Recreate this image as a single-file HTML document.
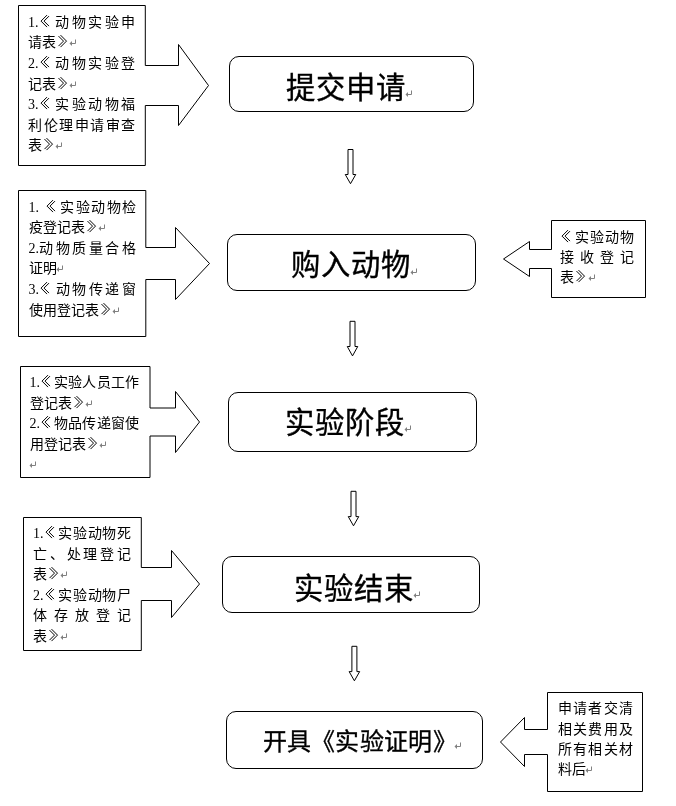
<!DOCTYPE html>
<html lang="zh-CN"><head><meta charset="utf-8"><title>flow</title>
<style>
html,body{margin:0;padding:0;background:#fff;}
body{width:676px;height:806px;position:relative;overflow:hidden;font-family:"Liberation Serif", serif;color:#000;}
svg.bg{position:absolute;left:0;top:0;}
#tx{position:absolute;left:0;top:0;width:676px;height:806px;will-change:transform;}
.ln{position:absolute;height:20.8px;line-height:20.8px;font-size:14px;white-space:nowrap;}
.ln.j{display:flex;justify-content:space-between;}
.sf{font-family:"Liberation Serif", serif;}
.ss{font-family:"Liberation Sans", sans-serif;}
.pm{margin-left:-0.6px;vertical-align:0px;}
.q{vertical-align:top;fill:none;stroke:#000;stroke-width:1;}
.ln.j>span{display:block;}
.sp{display:inline-block;width:6px;}
.mt{position:absolute;white-space:nowrap;font-family:"Liberation Serif", serif;-webkit-text-stroke:0.35px #000;}
.pm2{margin-left:-1.2px;vertical-align:-0.5px;}
</style></head><body>
<svg class="bg" width="676" height="806" viewBox="0 0 676 806" fill="#fff" stroke="#000" stroke-width="1" stroke-linejoin="miter">
<path d="M18.5 5.5 L145.3 5.5 L145.3 65.5 L178.5 65.5 L178.5 44.5 L208.5 85.5 L178.5 125.5 L178.5 105.5 L145.3 105.5 L145.3 165.5 L18.5 165.5 Z"/>
<path d="M18.5 190.5 L145.8 190.5 L145.8 247.5 L175.5 247.5 L175.5 227.5 L209.5 263.5 L175.5 299.5 L175.5 279.5 L145.8 279.5 L145.8 336.5 L18.5 336.5 Z"/>
<path d="M20.5 366.5 L150.0 366.5 L150.0 408.0 L175.5 408.0 L175.5 391.5 L199.5 422 L175.5 452.5 L175.5 436.0 L150.0 436.0 L150.0 477.5 L20.5 477.5 Z"/>
<path d="M23.5 517.5 L141.3 517.5 L141.3 567.5 L171.5 567.5 L171.5 550.5 L199.5 584 L171.5 617.5 L171.5 600.5 L141.3 600.5 L141.3 650.5 L23.5 650.5 Z"/>
<path d="M551.5 220.5 L645.5 220.5 L645.5 297.5 L551.5 297.5 L551.5 268.5 L529.5 268.5 L529.5 276.5 L503.5 259 L529.5 241.5 L529.5 249.5 L551.5 249.5 Z"/>
<path d="M547.5 692.5 L642.5 692.5 L642.5 791.5 L547.5 791.5 L547.5 754.5 L524.5 754.5 L524.5 766.5 L500.5 742 L524.5 717.5 L524.5 729.5 L547.5 729.5 Z"/>
<rect x="229.5" y="56.5" width="244.0" height="55.0" rx="9.5" ry="9.5"/>
<rect x="227.5" y="234.5" width="248.0" height="56.0" rx="9.5" ry="9.5"/>
<rect x="228.5" y="392.5" width="248.0" height="59.0" rx="9.5" ry="9.5"/>
<rect x="222.5" y="556.5" width="257.0" height="56.0" rx="9.5" ry="9.5"/>
<rect x="226.5" y="711.5" width="256.0" height="57.0" rx="9.5" ry="9.5"/>
<path d="M348.0 149.5 L353.0 149.5 L353.0 174.5 L355.75 174.5 L350.5 183.7 L345.25 174.5 L348.0 174.5 Z"/>
<path d="M350.0 321.3 L355.0 321.3 L355.0 346.5 L357.75 346.5 L352.5 355.9 L347.25 346.5 L350.0 346.5 Z"/>
<path d="M351.0 491.3 L356.0 491.3 L356.0 516.6 L358.75 516.6 L353.5 525.8 L348.25 516.6 L351.0 516.6 Z"/>
<path d="M351.9 646.3 L356.9 646.3 L356.9 671.6 L359.65 671.6 L354.4 680.8 L349.15 671.6 L351.9 671.6 Z"/>
</svg>
<div id="tx">
<div class="ln j sf" style="left:28px;top:12.70px;width:107.50px;"><span>1.<svg class="q" width="14" height="16" viewBox="0 0 14 16"><path d="M8 2.1 L2 8.1 L8 14.1 M10 3.1 L5 8.1 L10 13.1"/></svg></span><span>动</span><span>物</span><span>实</span><span>验</span><span>申</span></div>
<div class="ln sf" style="left:28px;top:33.33px;width:107.50px;">请表<svg class="q" width="14" height="16" viewBox="0 0 14 16"><path d="M4.5 2.1 L10.5 8.1 L4.5 14.1 M2.5 3.1 L7.5 8.1 L2.5 13.1"/></svg><svg class="pm" width="8" height="8" viewBox="0 0 8 8"><path d="M6.5 0.5 V4.5 H1.5" fill="none" stroke="#808080" stroke-width="1"/><path d="M0.5 4.5 L3 2 L3 7 Z" fill="#808080"/></svg></div>
<div class="ln j sf" style="left:28px;top:53.96px;width:107.50px;"><span>2.<svg class="q" width="14" height="16" viewBox="0 0 14 16"><path d="M8 2.1 L2 8.1 L8 14.1 M10 3.1 L5 8.1 L10 13.1"/></svg></span><span>动</span><span>物</span><span>实</span><span>验</span><span>登</span></div>
<div class="ln sf" style="left:28px;top:74.59px;width:107.50px;">记表<svg class="q" width="14" height="16" viewBox="0 0 14 16"><path d="M4.5 2.1 L10.5 8.1 L4.5 14.1 M2.5 3.1 L7.5 8.1 L2.5 13.1"/></svg><svg class="pm" width="8" height="8" viewBox="0 0 8 8"><path d="M6.5 0.5 V4.5 H1.5" fill="none" stroke="#808080" stroke-width="1"/><path d="M0.5 4.5 L3 2 L3 7 Z" fill="#808080"/></svg></div>
<div class="ln j sf" style="left:28px;top:95.22px;width:107.50px;"><span>3.<svg class="q" width="14" height="16" viewBox="0 0 14 16"><path d="M8 2.1 L2 8.1 L8 14.1 M10 3.1 L5 8.1 L10 13.1"/></svg></span><span>实</span><span>验</span><span>动</span><span>物</span><span>福</span></div>
<div class="ln j sf" style="left:28px;top:115.85px;width:107.50px;"><span>利</span><span>伦</span><span>理</span><span>申</span><span>请</span><span>审</span><span>查</span></div>
<div class="ln sf" style="left:28px;top:136.48px;width:107.50px;">表<svg class="q" width="14" height="16" viewBox="0 0 14 16"><path d="M4.5 2.1 L10.5 8.1 L4.5 14.1 M2.5 3.1 L7.5 8.1 L2.5 13.1"/></svg><svg class="pm" width="8" height="8" viewBox="0 0 8 8"><path d="M6.5 0.5 V4.5 H1.5" fill="none" stroke="#808080" stroke-width="1"/><path d="M0.5 4.5 L3 2 L3 7 Z" fill="#808080"/></svg></div>
<div class="ln j sf" style="left:28.5px;top:197.60px;width:107.50px;"><span>1.<i class="sp"></i><svg class="q" width="14" height="16" viewBox="0 0 14 16"><path d="M8 2.1 L2 8.1 L8 14.1 M10 3.1 L5 8.1 L10 13.1"/></svg></span><span>实</span><span>验</span><span>动</span><span>物</span><span>检</span></div>
<div class="ln sf" style="left:28.5px;top:218.20px;width:107.50px;">疫登记表<svg class="q" width="14" height="16" viewBox="0 0 14 16"><path d="M4.5 2.1 L10.5 8.1 L4.5 14.1 M2.5 3.1 L7.5 8.1 L2.5 13.1"/></svg><svg class="pm" width="8" height="8" viewBox="0 0 8 8"><path d="M6.5 0.5 V4.5 H1.5" fill="none" stroke="#808080" stroke-width="1"/><path d="M0.5 4.5 L3 2 L3 7 Z" fill="#808080"/></svg></div>
<div class="ln j sf" style="left:28.5px;top:238.80px;width:107.50px;"><span>2.动</span><span>物</span><span>质</span><span>量</span><span>合</span><span>格</span></div>
<div class="ln sf" style="left:28.5px;top:259.40px;width:107.50px;">证明<svg class="pm" width="8" height="8" viewBox="0 0 8 8"><path d="M6.5 0.5 V4.5 H1.5" fill="none" stroke="#808080" stroke-width="1"/><path d="M0.5 4.5 L3 2 L3 7 Z" fill="#808080"/></svg></div>
<div class="ln j sf" style="left:28.5px;top:280.00px;width:107.50px;"><span>3.<svg class="q" width="14" height="16" viewBox="0 0 14 16"><path d="M8 2.1 L2 8.1 L8 14.1 M10 3.1 L5 8.1 L10 13.1"/></svg></span><span>动</span><span>物</span><span>传</span><span>递</span><span>窗</span></div>
<div class="ln sf" style="left:28.5px;top:300.60px;width:107.50px;">使用登记表<svg class="q" width="14" height="16" viewBox="0 0 14 16"><path d="M4.5 2.1 L10.5 8.1 L4.5 14.1 M2.5 3.1 L7.5 8.1 L2.5 13.1"/></svg><svg class="pm" width="8" height="8" viewBox="0 0 8 8"><path d="M6.5 0.5 V4.5 H1.5" fill="none" stroke="#808080" stroke-width="1"/><path d="M0.5 4.5 L3 2 L3 7 Z" fill="#808080"/></svg></div>
<div class="ln j sf" style="left:29.5px;top:373.20px;width:109.50px;"><span>1.<svg class="q" width="14" height="16" viewBox="0 0 14 16"><path d="M8 2.1 L2 8.1 L8 14.1 M10 3.1 L5 8.1 L10 13.1"/></svg></span><span>实</span><span>验</span><span>人</span><span>员</span><span>工</span><span>作</span></div>
<div class="ln sf" style="left:29.5px;top:393.75px;width:109.50px;">登记表<svg class="q" width="14" height="16" viewBox="0 0 14 16"><path d="M4.5 2.1 L10.5 8.1 L4.5 14.1 M2.5 3.1 L7.5 8.1 L2.5 13.1"/></svg><svg class="pm" width="8" height="8" viewBox="0 0 8 8"><path d="M6.5 0.5 V4.5 H1.5" fill="none" stroke="#808080" stroke-width="1"/><path d="M0.5 4.5 L3 2 L3 7 Z" fill="#808080"/></svg></div>
<div class="ln j sf" style="left:29.5px;top:414.30px;width:109.50px;"><span>2.<svg class="q" width="14" height="16" viewBox="0 0 14 16"><path d="M8 2.1 L2 8.1 L8 14.1 M10 3.1 L5 8.1 L10 13.1"/></svg></span><span>物</span><span>品</span><span>传</span><span>递</span><span>窗</span><span>使</span></div>
<div class="ln sf" style="left:29.5px;top:434.85px;width:109.50px;">用登记表<svg class="q" width="14" height="16" viewBox="0 0 14 16"><path d="M4.5 2.1 L10.5 8.1 L4.5 14.1 M2.5 3.1 L7.5 8.1 L2.5 13.1"/></svg><svg class="pm" width="8" height="8" viewBox="0 0 8 8"><path d="M6.5 0.5 V4.5 H1.5" fill="none" stroke="#808080" stroke-width="1"/><path d="M0.5 4.5 L3 2 L3 7 Z" fill="#808080"/></svg></div>
<div class="ln sf" style="left:29.5px;top:455.40px;width:109.50px;"><svg class="pm" width="8" height="8" viewBox="0 0 8 8"><path d="M6.5 0.5 V4.5 H1.5" fill="none" stroke="#808080" stroke-width="1"/><path d="M0.5 4.5 L3 2 L3 7 Z" fill="#808080"/></svg></div>
<div class="ln j sf" style="left:33px;top:524.10px;width:98.00px;"><span>1.<svg class="q" width="14" height="16" viewBox="0 0 14 16"><path d="M8 2.1 L2 8.1 L8 14.1 M10 3.1 L5 8.1 L10 13.1"/></svg></span><span>实</span><span>验</span><span>动</span><span>物</span><span>死</span></div>
<div class="ln j sf" style="left:33px;top:544.66px;width:98.00px;"><span>亡</span><span>、</span><span>处</span><span>理</span><span>登</span><span>记</span></div>
<div class="ln sf" style="left:33px;top:565.22px;width:98.00px;">表<svg class="q" width="14" height="16" viewBox="0 0 14 16"><path d="M4.5 2.1 L10.5 8.1 L4.5 14.1 M2.5 3.1 L7.5 8.1 L2.5 13.1"/></svg><svg class="pm" width="8" height="8" viewBox="0 0 8 8"><path d="M6.5 0.5 V4.5 H1.5" fill="none" stroke="#808080" stroke-width="1"/><path d="M0.5 4.5 L3 2 L3 7 Z" fill="#808080"/></svg></div>
<div class="ln j sf" style="left:33px;top:585.78px;width:98.00px;"><span>2.<svg class="q" width="14" height="16" viewBox="0 0 14 16"><path d="M8 2.1 L2 8.1 L8 14.1 M10 3.1 L5 8.1 L10 13.1"/></svg></span><span>实</span><span>验</span><span>动</span><span>物</span><span>尸</span></div>
<div class="ln j sf" style="left:33px;top:606.34px;width:98.00px;"><span>体</span><span>存</span><span>放</span><span>登</span><span>记</span></div>
<div class="ln sf" style="left:33px;top:626.90px;width:98.00px;">表<svg class="q" width="14" height="16" viewBox="0 0 14 16"><path d="M4.5 2.1 L10.5 8.1 L4.5 14.1 M2.5 3.1 L7.5 8.1 L2.5 13.1"/></svg><svg class="pm" width="8" height="8" viewBox="0 0 8 8"><path d="M6.5 0.5 V4.5 H1.5" fill="none" stroke="#808080" stroke-width="1"/><path d="M0.5 4.5 L3 2 L3 7 Z" fill="#808080"/></svg></div>
<div class="ln j sf" style="left:560.2px;top:227.70px;width:74.00px;"><span><svg class="q" width="14" height="16" viewBox="0 0 14 16"><path d="M8 2.1 L2 8.1 L8 14.1 M10 3.1 L5 8.1 L10 13.1"/></svg></span><span>实</span><span>验</span><span>动</span><span>物</span></div>
<div class="ln j sf" style="left:560.2px;top:248.00px;width:74.00px;"><span>接</span><span>收</span><span>登</span><span>记</span></div>
<div class="ln sf" style="left:560.2px;top:268.30px;width:74.00px;">表<svg class="q" width="14" height="16" viewBox="0 0 14 16"><path d="M4.5 2.1 L10.5 8.1 L4.5 14.1 M2.5 3.1 L7.5 8.1 L2.5 13.1"/></svg><svg class="pm" width="8" height="8" viewBox="0 0 8 8"><path d="M6.5 0.5 V4.5 H1.5" fill="none" stroke="#808080" stroke-width="1"/><path d="M0.5 4.5 L3 2 L3 7 Z" fill="#808080"/></svg></div>
<div class="ln j ss" style="left:557.5px;top:698.40px;width:75.50px;"><span>申</span><span>请</span><span>者</span><span>交</span><span>清</span></div>
<div class="ln j ss" style="left:557.5px;top:718.55px;width:75.50px;"><span>相</span><span>关</span><span>费</span><span>用</span><span>及</span></div>
<div class="ln j ss" style="left:557.5px;top:738.70px;width:75.50px;"><span>所</span><span>有</span><span>相</span><span>关</span><span>材</span></div>
<div class="ln ss" style="left:557.5px;top:758.85px;width:75.50px;">料后<svg class="pm" width="8" height="8" viewBox="0 0 8 8"><path d="M6.5 0.5 V4.5 H1.5" fill="none" stroke="#808080" stroke-width="1"/><path d="M0.5 4.5 L3 2 L3 7 Z" fill="#808080"/></svg></div>
<div class="mt" style="left:286.4px;top:73.5px;font-size:29.33px;line-height:29.33px;letter-spacing:1.0px">提交申请<svg class="pm2" style="" width="8" height="8" viewBox="0 0 8 8"><path d="M6.5 0.5 V4.5 H1.5" fill="none" stroke="#808080" stroke-width="1"/><path d="M0.5 4.5 L3 2 L3 7 Z" fill="#808080"/></svg></div>
<div class="mt" style="left:291.0px;top:251.1px;font-size:29.33px;line-height:29.33px;letter-spacing:1.0px">购入动物<svg class="pm2" style="" width="8" height="8" viewBox="0 0 8 8"><path d="M6.5 0.5 V4.5 H1.5" fill="none" stroke="#808080" stroke-width="1"/><path d="M0.5 4.5 L3 2 L3 7 Z" fill="#808080"/></svg></div>
<div class="mt" style="left:285.1px;top:408.5px;font-size:29.33px;line-height:29.33px;letter-spacing:1.0px">实验阶段<svg class="pm2" style="" width="8" height="8" viewBox="0 0 8 8"><path d="M6.5 0.5 V4.5 H1.5" fill="none" stroke="#808080" stroke-width="1"/><path d="M0.5 4.5 L3 2 L3 7 Z" fill="#808080"/></svg></div>
<div class="mt" style="left:294.0px;top:574.5px;font-size:29.33px;line-height:29.33px;letter-spacing:1.0px">实验结束<svg class="pm2" style="" width="8" height="8" viewBox="0 0 8 8"><path d="M6.5 0.5 V4.5 H1.5" fill="none" stroke="#808080" stroke-width="1"/><path d="M0.5 4.5 L3 2 L3 7 Z" fill="#808080"/></svg></div>
<div class="mt" style="left:262.5px;top:729.8px;font-size:24px;line-height:24px;letter-spacing:0.3px">开具《实验证明》<svg class="pm2" style="margin-left:-2.8px;vertical-align:0px" width="8" height="8" viewBox="0 0 8 8"><path d="M6.5 0.5 V4.5 H1.5" fill="none" stroke="#808080" stroke-width="1"/><path d="M0.5 4.5 L3 2 L3 7 Z" fill="#808080"/></svg></div>
</div>
</body></html>
